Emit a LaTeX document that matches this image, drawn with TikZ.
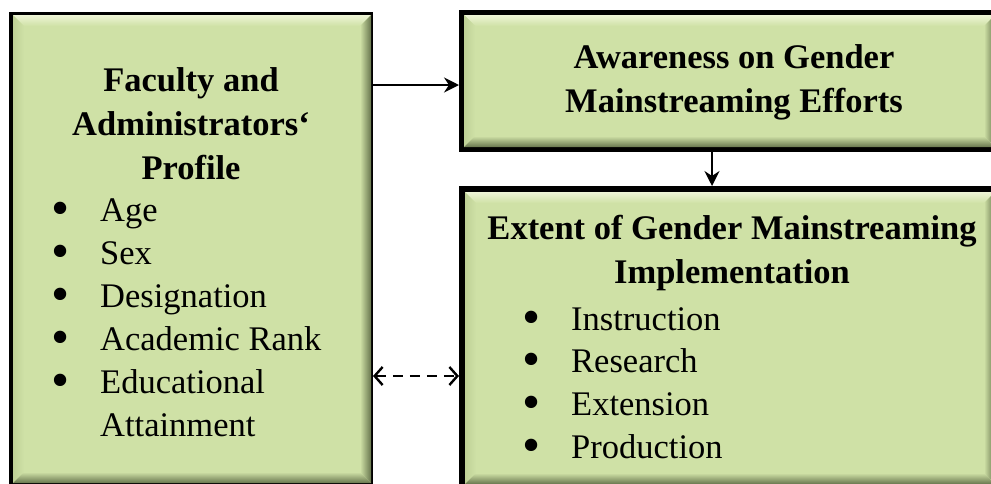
\documentclass[tikz,border=0pt]{standalone}
\usepackage{fontspec}
\setmainfont{Liberation Serif}
\usetikzlibrary{arrows.meta}

\definecolor{boxgreen}{RGB}{207,225,166}
\definecolor{boxhi}{RGB}{238,245,214}
\definecolor{boxmid}{RGB}{190,208,150}
\definecolor{boxlo}{RGB}{104,118,78}

\tikzset{
	frame/.style={fill=black, inner sep=0pt, outer sep=0pt, anchor=north west},
	heading/.style={font=\bfseries\fontsize{34.5}{44}\selectfont, align=center, inner sep=0pt},
	item/.style={font=\fontsize{34.5}{42}\selectfont, anchor=base west, inner sep=0pt},
	link/.style={line width=2.4pt, -{Stealth[length=15pt,width=15pt,inset=5pt]}},
	dlink/.style={line width=2.4pt, dash pattern=on 10pt off 7pt,
		{Straight Barb[length=8pt,width=18pt]}-{Straight Barb[length=8pt,width=18pt]}}}

% bevelled green face: x1, y1, x2, y2, bevel width
\newcommand{\bevel}[5]{%
	\fill[boxgreen] (#1,#2) rectangle (#3,#4);
	\shade[top color=boxhi, bottom color=boxgreen] (#1,#2) -- (#3,#2) -- ({#3-#5},{#2+#5}) -- ({#1+#5},{#2+#5}) -- cycle;
	\shade[left color=boxmid, right color=boxgreen] (#1,#2) -- ({#1+#5},{#2+#5}) -- ({#1+#5},{#4-#5}) -- (#1,#4) -- cycle;
	\shade[left color=boxgreen, right color=boxlo] (#3,#2) -- (#3,#4) -- ({#3-#5},{#4-#5}) -- ({#3-#5},{#2+#5}) -- cycle;
	\shade[top color=boxgreen, bottom color=boxlo] (#1,#4) -- (#3,#4) -- ({#3-#5},{#4-#5}) -- ({#1+#5},{#4-#5}) -- cycle;}

\newcommand{\bul}{\makebox[0pt]{\raisebox{-4.5pt}[0pt][0pt]{\scalebox{1.5}{\textbullet}}}\hspace{40pt}}

\begin{document}
\begin{tikzpicture}[x=1pt,y=1pt,yscale=-1,xscale=1]
	\useasboundingbox (0,0) rectangle (991,483);
	\clip (0,0) rectangle (991,483);

	%Shape: Profile box
	\node[frame, minimum width=364pt, minimum height=483pt] (prof) at (9,12) {};
	\bevel{13}{15}{371}{483}{11}
	%Shape: Awareness box
	\node[frame, minimum width=541pt, minimum height=142pt] (awr) at (459,10) {};
	\bevel{464}{15}{995}{147}{11}
	%Shape: Extent box
	\node[frame, minimum width=541pt, minimum height=309pt] (ext) at (459,186) {};
	\bevel{465}{192}{995}{484}{11}

	% Connectors
	\coordinate (topy) at (0,85);
	\coordinate (downx) at (712,0);
	\coordinate (dashy) at (0,376);
	\draw[link] (prof.east |- topy) -- (awr.west |- topy);
	\draw[link] (awr.south -| downx) -- (ext.north -| downx);
	\draw[dlink] (prof.east |- dashy) -- (ext.west |- dashy);

	% Text Node
	\node[heading] (profhead) at (191,124) {Faculty and\\Administrators‘\\Profile};
	% Text Node
	\node[item] (age) at (60,221) {\bul Age};
	\node[item] (sex) at (60,264) {\bul Sex};
	\node[item] (desig) at (60,307) {\bul Designation};
	\node[item] (rank) at (60,350) {\bul Academic Rank};
	\node[item] (educ) at (60,393) {\bul Educational};
	\node[item] (attain) at (100,436) {Attainment};
	% Text Node
	\node[heading] (awrhead) at (734,82) {Awareness on Gender\\Mainstreaming Efforts};
	% Text Node
	\node[heading] (exthead) at (732,253) {Extent of Gender Mainstreaming\\Implementation};
	% Text Node
	\node[item] (instr) at (531,330) {\bul Instruction};
	\node[item] (resch) at (531,372) {\bul Research};
	\node[item] (extn) at (531,415) {\bul Extension};
	\node[item] (prod) at (531,458) {\bul Production};

\end{tikzpicture}
\end{document}
